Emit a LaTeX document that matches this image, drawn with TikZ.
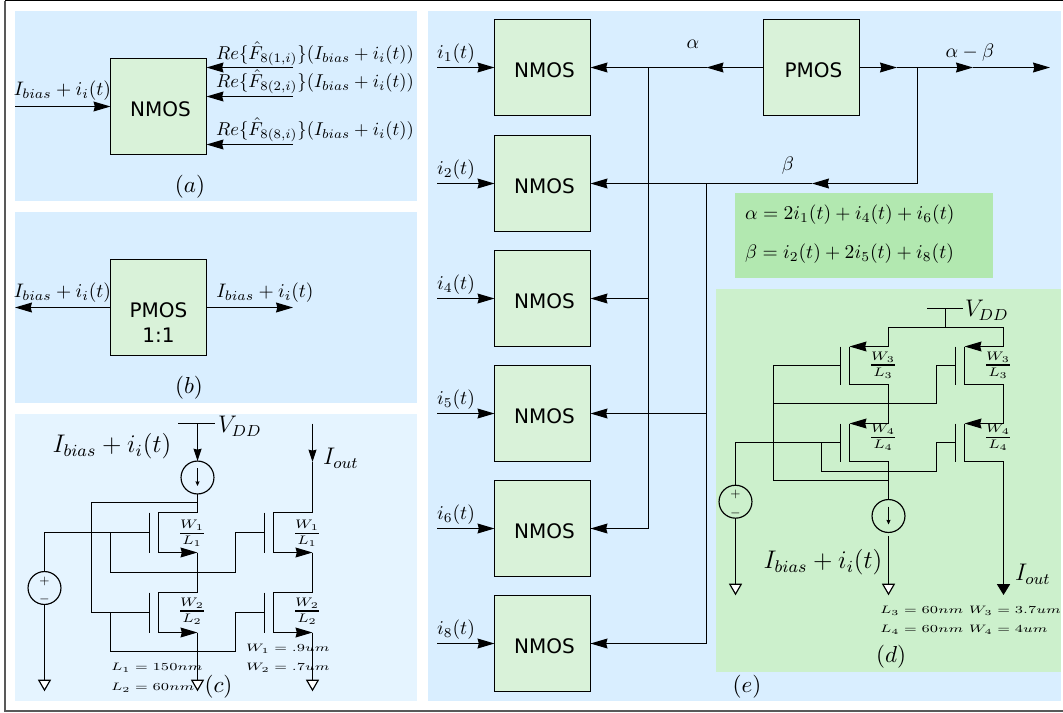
\documentclass[tikz,border=0pt]{standalone}
\usepackage{amsmath}
\usepackage{fontspec}
\setsansfont{DejaVu Sans}
\usetikzlibrary{arrows.meta,shapes.geometric}
\definecolor{panelblue}{HTML}{D9EEFF}
\definecolor{panelpale}{HTML}{E5F4FF}
\definecolor{boxgreen}{HTML}{D9F2D9}
\definecolor{eqgreen}{HTML}{B2E8B0}
\definecolor{dgreen}{HTML}{CCF0CC}
\tikzstyle{every picture}=[x=.65pt, y=-.65pt, line width=.75pt,%
	>={Stealth[length=11pt,width=6.4pt,inset=.8pt]}]
\tikzstyle{mosbox}=[draw, fill=boxgreen, minimum size=62.4pt, inner sep=0pt, outer sep=0pt,%
	align=center, font=\sffamily\fontsize{13}{16}\selectfont]
\tikzstyle{bare}=[inner sep=0pt, outer sep=0pt]
\tikzstyle{lbl}=[bare, scale=1.27]
\tikzstyle{relbl}=[bare, scale=1.21]
\tikzstyle{caplbl}=[bare, scale=1.5]
\tikzstyle{biglbl}=[bare, scale=1.3, font=\large]
\tikzstyle{biaslbl}=[bare, scale=1.38, font=\large]
\tikzstyle{src}=[draw, circle, minimum size=21.4pt, inner sep=0pt, outer sep=0pt]
\tikzstyle{gnd}=[draw, fill=white, regular polygon, regular polygon sides=3, shape border rotate=180,%
	minimum size=8.6pt, inner sep=0pt, outer sep=0pt]
\tikzstyle{vtip}=[>={Stealth[length=8pt,width=5.2pt,inset=.6pt]}]
\tikzstyle{itip}=[>={Stealth[length=3pt,width=2.6pt,inset=.3pt]}, line width=.6pt]
\newcommand{\mostext}[1]{\hspace*{2.6pt}\rule{0pt}{12.7pt}#1}
\newcommand{\wide}[1]{\scalebox{1.35}[1]{\scriptsize$#1$}}
\newcommand{\wl}[2]{\scalebox{1.35}[1.15]{$\genfrac{}{}{1.1pt}{1}{#1}{#2}$}}
\begin{document}
\begin{tikzpicture}
	\useasboundingbox (0,0) rectangle (1063,712);
	\draw[gray!70!black, line width=.9pt] (5,.5) -- (5,711) -- (1063,711);
	\draw[black, line width=.9pt] (5,.5) -- (1063,.5);
	\fill[panelblue] (15,11) rectangle (417,201);
	\fill[panelblue] (15,212) rectangle (417,403);
	\fill[panelpale] (15,414) rectangle (417,701);
	\fill[panelblue] (428,11) rectangle (1061,701);
	\fill[eqgreen] (735,193) rectangle (993,278);
	\fill[dgreen] (716,289) rectangle (1061,672);

	\node[mosbox] (anmos) at (158.5,106.5) {\mostext{NMOS}};
	\coordinate (ain) at (15,106.5);
	\draw[->] (ain) -- (anmos);
	\foreach \n/\y in {a/67.5,b/96.5,c/144.5} {
		\coordinate (af\n) at (293,\y);
		\draw[->] (af\n) -- (anmos.east |- af\n);
	}
	\node[lbl] (ailab) at (62.5,91) {$I_{bias}+i_i(t)$};
	\node[relbl] (falab) at (315,54) {$Re\{\hat{F}_{8(1,i)}\}(I_{bias}+i_i(t))$};
	\node[relbl] (fblab) at (315,82) {$Re\{\hat{F}_{8(2,i)}\}(I_{bias}+i_i(t))$};
	\node[relbl] (fclab) at (315,130) {$Re\{\hat{F}_{8(8,i)}\}(I_{bias}+i_i(t))$};
	\node[caplbl] (acap) at (190,187) {$(a)$};

	\node[mosbox] (bpmos) at (158.5,307.5) {\rule{0pt}{29.5pt}PMOS\\1:1};
	\coordinate (bl) at (15,307.5);
	\coordinate (br) at (293,307.5);
	\draw[->] (bpmos) -- (bl);
	\draw[->] (bpmos) -- (br);
	\node[lbl] (bllab) at (62.5,293) {$I_{bias}+i_i(t)$};
	\node[lbl] (brlab) at (265,293) {$I_{bias}+i_i(t)$};
	\node[caplbl] (bcap) at (189,388) {$(b)$};

	\foreach \n/\x/\y in {ma/149.5/512.5,mb/149.5/592.5,mc/264.5/512.5,md/264.5/592.5} {
		\draw (\x,\y) -- (\x,\y+40);
		\coordinate (\n g) at (\x,\y+20);
		\coordinate (\n d) at (\x+48,\y);
		\coordinate (\n s) at (\x+48,\y+40);
		\draw (\n d) -- (\x+9,\y) -- (\x+9,\y+40);
		\draw[->] (\x+9,\y+40) -- (\n s);
	}
	\node[src] (cvs) at (44.5,588) {};
	\node[bare, font=\footnotesize] (cvsp) at (44.5,581) {$+$};
	\node[bare, font=\footnotesize] (cvsm) at (44.5,599) {$-$};
	\node[src] (ccs) at (197.5,477.5) {};
	\draw[itip,->] (197.5,468) -- (197.5,486);
	\coordinate (cv) at (197.5,423.5);
	\draw (178,423.5) -- (215,423.5);
	\draw[vtip,->] (cv) -- (ccs);
	\coordinate (ctop) at (197.5,502.5);
	\draw (ccs) -- (mad);
	\draw (ctop) -- ++(-106,0) |- (mbg);
	\draw (cvs) |- (mag);
	\coordinate (cj1) at (110.5,532.5);
	\draw (cj1) |- ++(125,40) |- (mcg);
	\coordinate (cj2) at (110.5,612.5);
	\draw (cj2) |- ++(125,39) |- (mdg);
	\draw (mas) -- (mbd);
	\draw (mcs) -- (mdd);
	\coordinate (cout) at (312.5,423.5);
	\coordinate (coutm) at (312.5,462);
	\draw[vtip,->] (cout) -- (coutm);
	\draw (coutm) -- (mcd);
	\node[gnd] (cg1) at (44.5,683.5) {};
	\node[gnd] (cg2) at (197.5,683.5) {};
	\node[gnd] (cg3) at (312.5,683.5) {};
	\draw (cvs) -- (cg1);
	\draw (mbs) -- (cg2);
	\draw (mds) -- (cg3);
	\foreach \x in {192,307} {
		\node[bare] at (\x,533.5) {\wl{W_1}{L_1}};
		\node[bare] at (\x,611) {\wl{W_2}{L_2}};
	}
	\node[biaslbl] (cibias) at (112,446) {$I_{bias}+i_i(t)$};
	\node[biglbl, anchor=west] (cvdd) at (218,426) {$V_{DD}$};
	\node[biglbl, anchor=west] (ciout) at (323,458) {$I_{out}$};
	\node[bare, anchor=west] (cl1) at (111,668) {\wide{L_1=150nm}};
	\node[bare, anchor=west] (cl2) at (111,688) {\wide{L_2=60nm}};
	\node[bare, anchor=west] (cw1) at (246,649) {\wide{W_1=.9um}};
	\node[bare, anchor=west] (cw2) at (246,668) {\wide{W_2=.7um}};
	\node[caplbl] (ccap) at (218.5,687) {$(c)$};

	\foreach \n/\y/\i in {a/67.5/1,b/183.5/2,c/298.5/4,d/413.5/5,e/528.5/6,f/643.5/8} {
		\node[mosbox] (n\n) at (542.5,\y) {\mostext{NMOS}};
		\coordinate (in\n) at (437,\y);
		\draw[->] (in\n) -- (n\n);
		\node[lbl] (il\n) at (456,\y-14) {$i_{\i}(t)$};
	}
	\node[mosbox] (pmos) at (811.5,67.5) {\mostext{PMOS}};
	\coordinate (atip) at (706.5,67.5);
	\coordinate (asplit) at (648.5,67.5);
	\coordinate (rtip) at (897,67.5);
	\coordinate (rsplit) at (917.5,67.5);
	\coordinate (rmid) at (973,67.5);
	\coordinate (rend) at (1050,67.5);
	\draw[->] (pmos) -- (atip);
	\draw[->] (atip) -- (na);
	\draw[->] (pmos) -- (rtip);
	\draw[->] (rtip) -- (rmid);
	\draw[->] (rmid) -- (rend);
	\coordinate (bstart) at (917.5,183.5);
	\coordinate (btip) at (812,183.5);
	\coordinate (bsplit) at (706.5,183.5);
	\draw (rsplit) -- (bstart);
	\draw[->] (bstart) -- (btip);
	\draw[->] (btip) -- (nb);
	\draw (asplit) |- (ne.east);
	\draw[->] (asplit |- ne) -- (ne);
	\draw[->] (asplit |- nc) -- (nc);
	\draw (bsplit) |- (nf.east);
	\draw[->] (bsplit |- nf) -- (nf);
	\draw[->] (bsplit |- nd) -- (nd);
	\node[lbl] (alab) at (693,44) {$\alpha$};
	\node[lbl] (blab) at (788,166) {$\beta$};
	\node[lbl] (ablab) at (970,53) {$\alpha-\beta$};
	\node[lbl, anchor=west] (eqa) at (745,215) {$\alpha=2i_1(t)+i_4(t)+i_6(t)$};
	\node[lbl, anchor=west] (eqb) at (745,254) {$\beta=i_2(t)+2i_5(t)+i_8(t)$};
	\node[caplbl] (ecap) at (747,687) {$(e)$};

	\foreach \n/\x/\y in {pa/840.5/346.5,pb/840.5/423.5,pc/955.5/346.5,pd/955.5/423.5} {
		\draw (\x,\y) -- (\x,\y+38);
		\coordinate (\n g) at (\x,\y+19);
		\coordinate (\n s) at (\x+48,\y);
		\coordinate (\n d) at (\x+48,\y+38);
		\draw (\n d) -- (\x+9,\y+38) -- (\x+9,\y);
		\draw[->] (\n s) -- (\x+9,\y);
	}
	\coordinate (dv) at (945.5,308.5);
	\coordinate (dvj) at (945.5,327.5);
	\draw (927,308.5) -- (963,308.5);
	\draw (dv) -- (dvj);
	\draw (pas) |- (dvj);
	\draw (pcs) |- (dvj);
	\draw (pad) -- (pbs);
	\draw (pcd) -- (pds);
	\node[src] (dcs) at (888.5,516) {};
	\draw[itip,->] (888.5,506.5) -- (888.5,524.5);
	\node[src] (dvs) at (735.5,501.7) {};
	\node[bare, font=\footnotesize] (dvsp) at (735.5,494.5) {$+$};
	\node[bare, font=\footnotesize] (dvsm) at (735.5,513) {$-$};
	\draw (pbd) -- (dcs);
	\coordinate (dj1) at (773.5,403.5);
	\draw (pag) -| (773.5,480.5) -- (888.5,480.5);
	\draw (dj1) -- ++(163,0) |- (pcg);
	\coordinate (dj2) at (821.5,442.5);
	\draw (pbg) -| (dvs);
	\draw (dj2) |- ++(115,29) |- (pdg);
	\node[gnd] (dg1) at (735.5,587.5) {};
	\node[gnd] (dg2) at (888.5,587.5) {};
	\draw (dvs) -- (dg1);
	\draw (888.5,536) -- (dg2);
	\coordinate (dout) at (1003.5,595);
	\draw[>={Stealth[length=7pt,width=8.4pt,inset=0pt]},->] (pdd) -- (dout);
	\foreach \x in {883,998} {
		\node[bare] at (\x,365) {\wl{W_3}{L_3}};
		\node[bare] at (\x,437.5) {\wl{W_4}{L_4}};
	}
	\node[biaslbl] (dibias) at (823,562) {$I_{bias}+i_i(t)$};
	\node[biglbl, anchor=west] (dvdd) at (965,310) {$V_{DD}$};
	\node[biglbl, anchor=west] (diout) at (1015,574) {$I_{out}$};
	\node[bare, anchor=west] (dl1) at (880,611) {\wide{L_3=60nm\,\,W_3=3.7um}};
	\node[bare, anchor=west] (dl2) at (880,630) {\wide{L_4=60nm\,\,W_4=4um}};
	\node[caplbl] (dcap) at (891,657) {$(d)$};
\end{tikzpicture}
\end{document}
